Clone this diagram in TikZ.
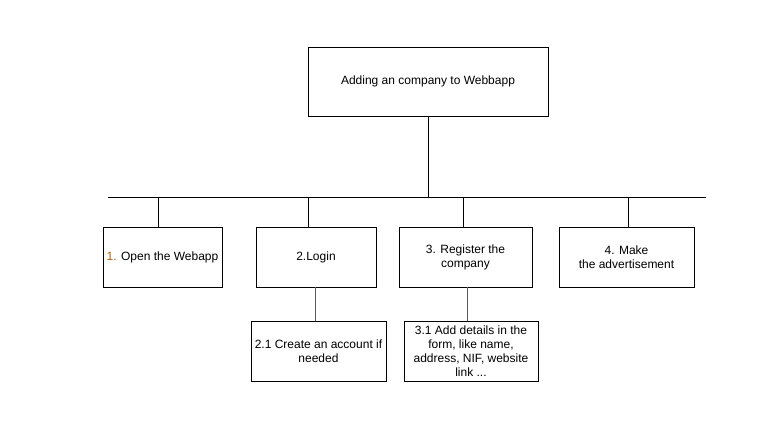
\documentclass[tikz,border=0pt]{standalone}
\usepackage{fontspec}
\setmainfont{Liberation Sans}
\usepackage{tikz}
\usetikzlibrary{calc}

\definecolor{stepnum}{RGB}{180,95,6}
\definecolor{sublink}{RGB}{90,90,90}

\tikzset{
	box/.style={draw, line width=0.8pt, align=center, inner sep=0pt,
		font=\fontsize{12}{14}\selectfont},
	link/.style={line width=0.8pt},
	sub link/.style={line width=0.8pt, draw=sublink}
}

\begin{document}
\begin{tikzpicture}[x=1pt,y=-1pt]
	% Page frame
	\useasboundingbox (0,0) rectangle (777,432);

	% Main task
	\node[box, minimum width=240pt, minimum height=69pt] (main) at (428,81.5)
		{Adding an company to Webbapp};

	% Steps
	\node[box, minimum width=119pt, minimum height=60pt] (s1) at (162.5,257)
		{\textcolor{stepnum}{1.} Open the Webapp};
	\node[box, minimum width=120pt, minimum height=60pt] (s2) at (316,257)
		{2.Login};
	\node[box, minimum width=133pt, minimum height=60pt] (s3) at (465.5,257)
		{3. Register the\\company};
	\node[box, minimum width=135pt, minimum height=60pt] (s4) at (626.5,257)
		{4. Make\\the advertisement};

	% Sub steps
	\node[box, minimum width=135pt, minimum height=60pt] (s21) at (318.5,351)
		{2.1 Create an account if\\needed};
	\node[box, minimum width=134pt, minimum height=60pt] (s31) at (471,351)
		{3.1 Add details in the\\form, like name,\\address, NIF, website\\link ...};

	% Bus line
	\coordinate (busL) at (108,197);
	\coordinate (busR) at (706,197);
	\draw[link] (busL) -- (busR);
	\draw[link] (main.south) -- (main.south |- busL);

	% Drops to the steps
	\coordinate (d1) at (158,197);
	\coordinate (d2) at (308,197);
	\coordinate (d3) at (463,197);
	\coordinate (d4) at (628,197);
	\foreach \d/\s in {d1/s1, d2/s2, d3/s3, d4/s4}
		\draw[link] (\d) -- (\d |- \s.north);

	% Sub step links
	\coordinate (u2) at (315,287);
	\coordinate (u3) at (467,287);
	\draw[sub link] (u2) -- (u2 |- s21.north);
	\draw[sub link] (u3) -- (u3 |- s31.north);
\end{tikzpicture}
\end{document}
